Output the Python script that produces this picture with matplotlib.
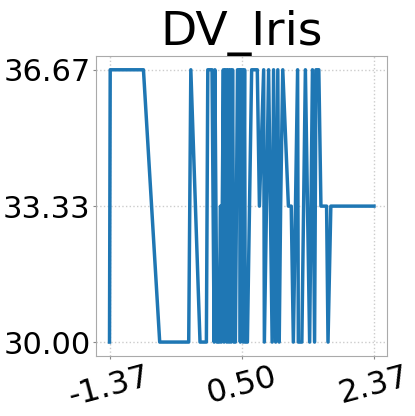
import numpy as np
import matplotlib
matplotlib.use("Agg")
import matplotlib.pyplot as plt

L, M, H = 30.0, 33.33, 36.67

x_vals = [-1.37, -1.36, -0.89, -0.66, -0.25, -0.22, -0.09, 0.00, 0.02, 0.08,
          0.11, 0.12, 0.15, 0.18, 0.20, 0.21, 0.24, 0.25, 0.27, 0.28,
          0.29, 0.31, 0.32, 0.34, 0.35, 0.37, 0.39, 0.41, 0.44, 0.47,
          0.48, 0.49, 0.51, 0.52, 0.54, 0.55, 0.58, 0.64, 0.72, 0.75,
          0.81, 0.82, 0.88, 0.93, 0.95, 0.98, 1.01, 1.03, 1.05, 1.08,
          1.16, 1.20, 1.23, 1.29, 1.30, 1.35, 1.40, 1.43, 1.46, 1.50,
          1.53, 1.55, 1.59, 1.62, 1.70, 1.72, 1.76, 2.37]
y_vals = [L, H, H, L, L, H, L, L, H, H,
          L, H, L, L, M, L, H, L, H, H,
          L, H, L, H, L, H, L, L, H, H,
          L, H, H, L, H, L, L, H, H, M,
          H, L, H, L, H, L, H, L, M, H,
          M, M, L, H, L, L, H, M, L, H,
          L, H, H, M, M, L, M, M]

x_ticks = [-1.37, 0.50, 2.37]
y_ticks = [30.00, 33.33, 36.67]

fig = plt.figure(figsize=(4.15, 4.16), dpi=100)
ax = fig.add_axes([0.232, 0.145, 0.701, 0.72])
ax.plot(x_vals, y_vals, color='#1f77b4', linewidth=2.5)

ax.set_xticks(x_ticks)
ax.set_xticklabels([f"{t:.2f}" for t in x_ticks], rotation=15)
ax.set_yticks(y_ticks)
ax.set_yticklabels([f"{t:.2f}" for t in y_ticks])
ax.tick_params(length=2, pad=2, color='#888888')
ax.tick_params(axis='y', labelsize=22)
ax.tick_params(axis='x', labelsize=23)
ax.grid(True, linestyle=':', color='#cccccc', linewidth=1.0)
for s in ax.spines.values():
    s.set_color('#aaaaaa')
ax.set_title('DV_Iris', fontsize=34)

plt.savefig('out.png', dpi=100)
